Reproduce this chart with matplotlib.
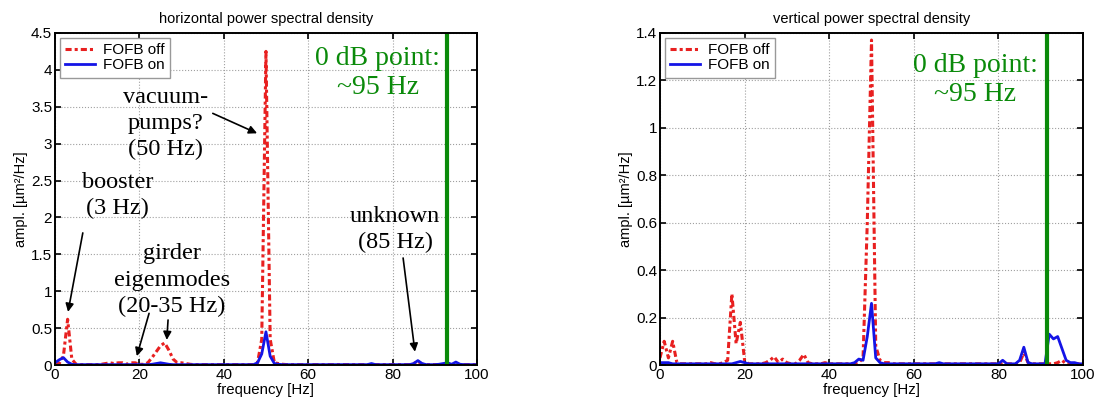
import numpy as np
import matplotlib
matplotlib.use('Agg')
import matplotlib.pyplot as plt
from matplotlib.ticker import FormatStrFormatter

# frequency grid [Hz], 1 Hz steps
freq = list(range(0, 101))

# horizontal PSD, FOFB off / on
h_off = [0.01, 0.02, 0.12, 0.62, 0.08, 0.01, 0.005, 0.005, 0.005, 0.005,
         0.005, 0.01, 0.02, 0.03, 0.02, 0.03, 0.03, 0.01, 0.03, 0.03,
         0.01, 0.01, 0.03, 0.10, 0.18, 0.26, 0.30, 0.20, 0.08, 0.03,
         0.03, 0.02, 0.01, 0.005, 0.005, 0.005, 0.005, 0.005, 0.005, 0.005,
         0.005, 0.005, 0.005, 0.005, 0.005, 0.005, 0.005, 0.005, 0.03, 0.35,
         4.25, 0.35, 0.03, 0.02, 0.01, 0.005, 0.005, 0.005, 0.005, 0.005,
         0.005, 0.005, 0.005, 0.005, 0.005, 0.005, 0.005, 0.005, 0.005, 0.005,
         0.005, 0.005, 0.005, 0.005, 0.005, 0.005, 0.005, 0.005, 0.005, 0.005,
         0.005, 0.005, 0.005, 0.005, 0.005, 0.02, 0.05, 0.01, 0.005, 0.005,
         0.005, 0.005, 0.005, 0.005, 0.005, 0.005, 0.005, 0.005, 0.005, 0.005,
         0.005]
h_on = [0.03, 0.07, 0.10, 0.04, 0.01, 0.005, 0.005, 0.005, 0.005, 0.005,
        0.005, 0.005, 0.005, 0.005, 0.005, 0.005, 0.005, 0.005, 0.005, 0.005,
        0.005, 0.005, 0.005, 0.01, 0.02, 0.03, 0.02, 0.01, 0.005, 0.005,
        0.005, 0.005, 0.005, 0.005, 0.005, 0.005, 0.005, 0.005, 0.005, 0.005,
        0.005, 0.005, 0.005, 0.005, 0.005, 0.005, 0.005, 0.005, 0.03, 0.15,
        0.45, 0.12, 0.02, 0.01, 0.005, 0.005, 0.005, 0.005, 0.005, 0.005,
        0.005, 0.005, 0.005, 0.005, 0.005, 0.005, 0.005, 0.005, 0.005, 0.005,
        0.005, 0.005, 0.005, 0.005, 0.005, 0.02, 0.005, 0.005, 0.005, 0.005,
        0.005, 0.005, 0.005, 0.005, 0.005, 0.02, 0.06, 0.02, 0.005, 0.005,
        0.005, 0.01, 0.02, 0.03, 0.01, 0.04, 0.01, 0.005, 0.005, 0.005,
        0.005]

# vertical PSD, FOFB off / on
v_off = [0.03, 0.10, 0.03, 0.10, 0.01, 0.005, 0.005, 0.005, 0.005, 0.005,
         0.005, 0.005, 0.01, 0.005, 0.005, 0.01, 0.02, 0.30, 0.09, 0.18,
         0.02, 0.005, 0.005, 0.005, 0.005, 0.01, 0.02, 0.035, 0.01, 0.025,
         0.01, 0.005, 0.005, 0.02, 0.045, 0.01, 0.005, 0.005, 0.005, 0.01,
         0.005, 0.005, 0.005, 0.005, 0.005, 0.005, 0.005, 0.01, 0.03, 0.60,
         1.37, 0.08, 0.02, 0.01, 0.01, 0.005, 0.005, 0.005, 0.005, 0.005,
         0.005, 0.005, 0.005, 0.005, 0.005, 0.005, 0.005, 0.005, 0.005, 0.005,
         0.005, 0.005, 0.005, 0.005, 0.005, 0.005, 0.005, 0.005, 0.005, 0.005,
         0.005, 0.005, 0.005, 0.005, 0.005, 0.01, 0.05, 0.01, 0.005, 0.005,
         0.005, 0.005, 0.005, 0.005, 0.01, 0.02, 0.005, 0.005, 0.005, 0.005,
         0.005]
v_on = [0.01, 0.01, 0.01, 0.005, 0.005, 0.005, 0.005, 0.005, 0.005, 0.005,
        0.005, 0.005, 0.005, 0.005, 0.005, 0.005, 0.005, 0.005, 0.01, 0.015,
        0.01, 0.005, 0.005, 0.005, 0.005, 0.005, 0.005, 0.005, 0.005, 0.005,
        0.005, 0.005, 0.005, 0.005, 0.005, 0.005, 0.005, 0.005, 0.005, 0.005,
        0.005, 0.005, 0.005, 0.005, 0.005, 0.005, 0.01, 0.025, 0.02, 0.12,
        0.26, 0.03, 0.01, 0.005, 0.005, 0.005, 0.005, 0.005, 0.005, 0.005,
        0.005, 0.005, 0.005, 0.005, 0.005, 0.005, 0.01, 0.005, 0.005, 0.005,
        0.005, 0.005, 0.005, 0.005, 0.005, 0.005, 0.005, 0.005, 0.005, 0.005,
        0.005, 0.02, 0.005, 0.005, 0.005, 0.02, 0.075, 0.01, 0.005, 0.005,
        0.005, 0.005, 0.13, 0.11, 0.12, 0.07, 0.02, 0.01, 0.01, 0.005,
        0.005]

h_zero_db = 92.9
v_zero_db = 91.5

RED = '#e82020'
BLUE = '#1414e6'
GREEN = '#0a8a0a'
SANS = 'Liberation Sans'
SERIF = 'Liberation Serif'

plt.rcParams['font.family'] = SANS

fig = plt.figure(figsize=(10.99, 4.04), dpi=100)
ax0 = fig.add_axes([0.050, 0.0965, 0.384, 0.822])
ax1 = fig.add_axes([0.6005, 0.0965, 0.385, 0.822])


def style_axes(ax, off, on, ymax, ystep, title):
    ax.plot(freq, off, color=RED, lw=2.2, ls=(0, (2, 1, 1, 1)), label='FOFB off')
    ax.plot(freq, on, color=BLUE, lw=2.0, label='FOFB on')
    ax.set_xlim(0, 100)
    ax.set_ylim(0, ymax)
    ax.set_xticks(range(0, 101, 20))
    ax.set_yticks(np.arange(0, ymax + 1e-9, ystep))
    ax.yaxis.set_major_formatter(FormatStrFormatter('%g'))
    ax.tick_params(direction='in', top=True, right=True, labelsize=11, length=4, width=1.2, pad=2)
    ax.grid(True, ls=':', color='#a0a0a0', lw=0.8)
    for s in ax.spines.values():
        s.set_linewidth(1.4)
    ax.set_title(title, fontsize=10.5, pad=7)
    ax.set_xlabel('frequency [Hz]', fontsize=10.8, labelpad=1)
    ax.set_ylabel('ampl. [\u00b5m\u00b2/Hz]', fontsize=10.5, labelpad=2)
    leg = ax.legend(loc='upper left', fontsize=11, handlelength=2.0, frameon=True,
                    fancybox=False, framealpha=1, edgecolor='#999999',
                    borderaxespad=0.3, handletextpad=0.5, labelspacing=0.1,
                    borderpad=0.35)
    leg.get_frame().set_linewidth(1.0)


style_axes(ax0, h_off, h_on, 4.5, 0.5, 'horizontal power spectral density')
style_axes(ax1, v_off, v_on, 1.4, 0.2, 'vertical power spectral density')

ax0.axvline(h_zero_db, color=GREEN, lw=3)
ax1.axvline(v_zero_db, color=GREEN, lw=3)

ax0.text(76.5, 3.96, '0 dB point:\n~95 Hz', color=GREEN, family=SERIF, fontsize=20,
         ha='center', va='center', linespacing=1.22)
ax1.text(74.5, 1.20, '0 dB point:\n~95 Hz', color=GREEN, family=SERIF, fontsize=20,
         ha='center', va='center', linespacing=1.22)

# annotations on horizontal plot
txt = dict(family=SERIF, fontsize=17.5, ha='center', va='center', linespacing=1.32)
arr = dict(arrowstyle='-|>', color='black', lw=1.2, mutation_scale=12, shrinkA=0, shrinkB=0)

ax0.text(26.3, 3.27, 'vacuum-\npumps?\n(50 Hz)', **txt)
ax0.annotate('', xy=(47.9, 3.14), xytext=(37.4, 3.41), arrowprops=arr)

ax0.text(14.9, 2.30, 'booster\n(3 Hz)', **txt)
ax0.annotate('', xy=(3.1, 0.72), xytext=(6.6, 1.79), arrowprops=arr)

ax0.text(27.7, 1.15, 'girder\neigenmodes\n(20-35 Hz)', **txt)
ax0.annotate('', xy=(19.4, 0.12), xytext=(22.3, 0.70), arrowprops=arr)
ax0.annotate('', xy=(26.5, 0.34), xytext=(26.8, 0.61), arrowprops=arr)

ax0.text(80.6, 1.84, 'unknown\n(85 Hz)', **txt)
ax0.annotate('', xy=(85.3, 0.18), xytext=(82.5, 1.45), arrowprops=arr)

fig.savefig('out.png', dpi=100)
